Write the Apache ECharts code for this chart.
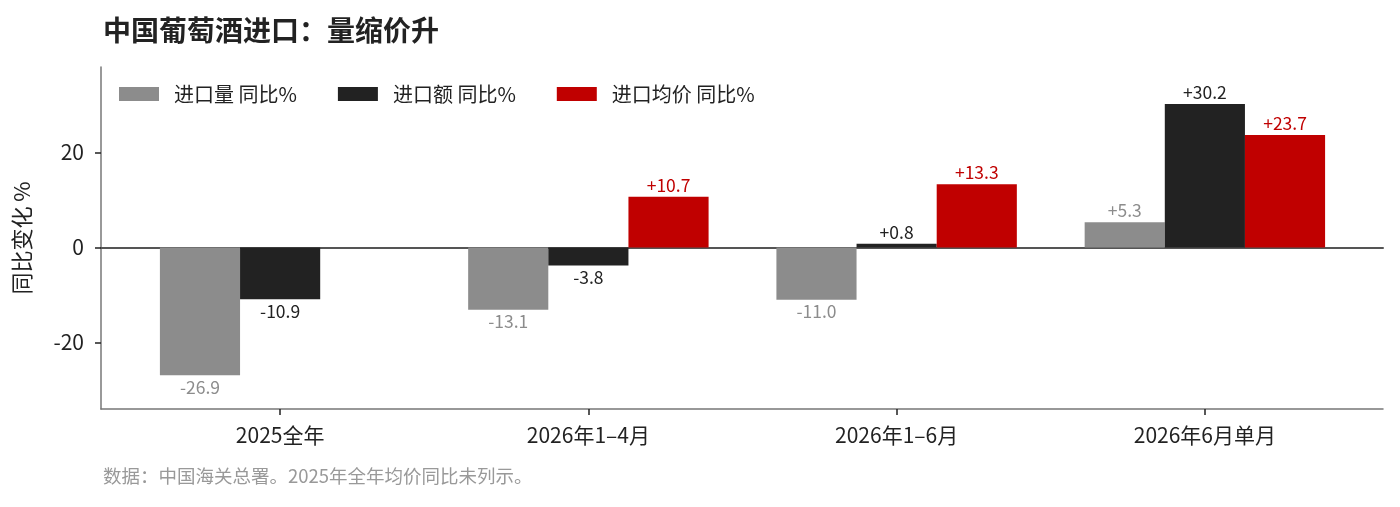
<!DOCTYPE html>
<html lang="zh">
<head>
<meta charset="utf-8">
<title>中国葡萄酒进口：量缩价升</title>
<style>
  html, body { margin: 0; padding: 0; background: #fff; }
  #main { width: 1400px; height: 507px; }
</style>
</head>
<body>
<div id="main"></div>
<script src="https://cdn.jsdelivr.net/npm/echarts@6/dist/echarts.min.js"></script>
<script>
// 数据
var categories = ['2025全年', '2026年1–4月', '2026年1–6月', '2026年6月单月'];
var volumeYoY = [-26.9, -13.1, -11.0, 5.3];    // 进口量 同比%
var valueYoY = [-10.9, -3.8, 0.8, 30.2];       // 进口额 同比%
var priceYoY = [null, 10.7, 13.3, 23.7];       // 进口均价 同比%（2025年未列示）
var yTicks = [-20, 0, 20];

var FONT = '"Noto Sans CJK SC", "Noto Sans", sans-serif';
var Y_MIN = -34, Y_MAX = 38;

function fmt(v) {
    return (v > 0 ? '+' : '') + v.toFixed(1);
}

// 正值标签在上，负值标签在下
function toItems(arr, color) {
    return arr.map(function (v) {
        if (v === null) return '-';
        return {
            value: v,
            label: {
                show: true,
                position: v < 0 ? 'bottom' : 'top',
                distance: 3,
                color: color,
                fontSize: 17.5,
                fontFamily: FONT,
                formatter: function () { return fmt(v); }
            }
        };
    });
}

var myChart = echarts.init(document.getElementById('main'));

myChart.setOption({
    backgroundColor: '#fff',
    animation: false,
    textStyle: { fontFamily: FONT },
    title: [{
        text: '中国葡萄酒进口：量缩价升',
        left: 98,
        top: 11,
        textStyle: { fontSize: 28, fontWeight: 'bold', color: '#222', fontFamily: FONT }
    }, {
        text: '数据：中国海关总署。2025年全年均价同比未列示。',
        left: 98,
        top: 462,
        textStyle: { fontSize: 18.5, fontWeight: 'normal', color: '#999', fontFamily: FONT }
    }],
    legend: {
        left: 114,
        top: 79,
        itemWidth: 40,
        itemHeight: 14,
        itemGap: 41,
        icon: 'rect',
        textStyle: { fontSize: 20, color: '#222', fontFamily: FONT, padding: [0, 0, 0, 10] },
        data: ['进口量 同比%', '进口额 同比%', '进口均价 同比%']
    },
    // grid 0: 柱子所在区域；grid 1: 外框坐标轴
    grid: [{
        left: 126,
        right: 41,
        top: 67,
        bottom: 98
    }, {
        left: 101,
        right: 17,
        top: 67,
        bottom: 98
    }],
    xAxis: [{
        type: 'category',
        gridIndex: 0,
        position: 'bottom',
        data: categories,
        axisLine: { show: false, onZero: false },
        axisTick: { show: true, alignWithLabel: true, length: 6, lineStyle: { color: '#222', width: 1.5 } },
        axisLabel: { fontSize: 21, color: '#222', margin: 16, fontFamily: FONT },
        splitLine: { show: false }
    }, {
        type: 'value',
        gridIndex: 1,
        position: 'bottom',
        axisLine: { show: true, onZero: false, lineStyle: { color: '#777', width: 1.5 } },
        axisTick: { show: false },
        axisLabel: { show: false },
        splitLine: { show: false }
    }, {
        type: 'value',
        gridIndex: 1,
        position: 'top',
        axisLine: { show: true, onZero: true, lineStyle: { color: '#555', width: 2 } },
        axisTick: { show: false },
        axisLabel: { show: false },
        splitLine: { show: false }
    }],
    yAxis: [{
        type: 'value',
        gridIndex: 0,
        min: Y_MIN,
        max: Y_MAX,
        show: false
    }, {
        type: 'value',
        gridIndex: 1,
        min: Y_MIN,
        max: Y_MAX,
        name: '同比变化 %',
        nameLocation: 'middle',
        nameGap: 68,
        nameRotate: 90,
        nameTextStyle: { fontSize: 22, color: '#222', fontFamily: FONT },
        axisLine: { show: true, lineStyle: { color: '#777', width: 1.5 } },
        axisTick: { show: true, length: 6, customValues: yTicks, lineStyle: { color: '#222', width: 1.5 } },
        axisLabel: { fontSize: 21, color: '#222', margin: 17, customValues: yTicks, fontFamily: FONT },
        splitLine: { show: false }
    }],
    series: [{
        name: '进口量 同比%',
        type: 'bar',
        xAxisIndex: 0,
        yAxisIndex: 0,
        barGap: '0%',
        barCategoryGap: '22%',
        itemStyle: { color: '#8c8c8c' },
        data: toItems(volumeYoY, '#8c8c8c'),
        z: 2
    }, {
        name: '进口额 同比%',
        type: 'bar',
        xAxisIndex: 0,
        yAxisIndex: 0,
        barGap: '0%',
        barCategoryGap: '22%',
        itemStyle: { color: '#222222' },
        data: toItems(valueYoY, '#222'),
        z: 2
    }, {
        name: '进口均价 同比%',
        type: 'bar',
        xAxisIndex: 0,
        yAxisIndex: 0,
        barGap: '0%',
        barCategoryGap: '22%',
        itemStyle: { color: '#c00000' },
        data: toItems(priceYoY, '#c00000'),
        z: 2
    }]
});
</script>
</body>
</html>
